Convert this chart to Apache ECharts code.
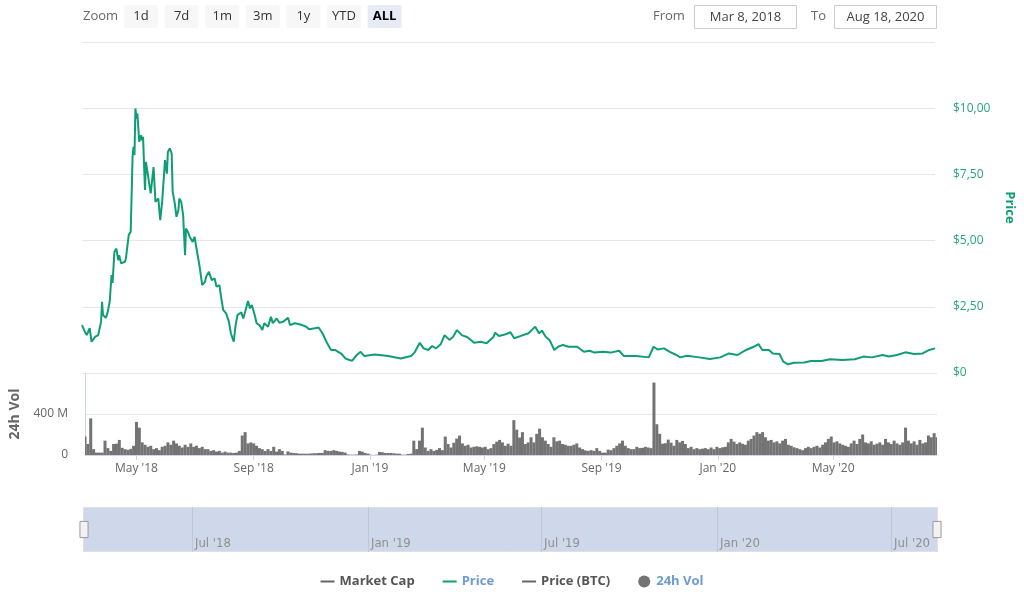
<!DOCTYPE html>
<html><head><meta charset="utf-8">
<script src="https://cdn.jsdelivr.net/npm/echarts@6/dist/echarts.min.js"></script>
<style>html,body{margin:0;padding:0;background:#fff}#chart{width:1024px;height:592px}</style>
</head><body><div id="chart"></div>
<script>
// ---------------- DATA ----------------
const priceDates = ['2018-03-08','2018-03-11','2018-03-13','2018-03-16','2018-03-18','2018-03-22','2018-03-25','2018-03-28','2018-03-29','2018-03-30',
'2018-04-02','2018-04-04','2018-04-06','2018-04-08','2018-04-09','2018-04-11','2018-04-13','2018-04-15','2018-04-16','2018-04-18',
'2018-04-22','2018-04-23','2018-04-26','2018-04-28','2018-04-29','2018-04-30','2018-05-01','2018-05-02','2018-05-03','2018-05-04',
'2018-05-05','2018-05-07','2018-05-09','2018-05-10','2018-05-11','2018-05-13','2018-05-14','2018-05-16','2018-05-19','2018-05-22',
'2018-05-24','2018-05-27','2018-05-29','2018-05-31','2018-06-03','2018-06-05','2018-06-06','2018-06-08','2018-06-10','2018-06-11',
'2018-06-13','2018-06-15','2018-06-17','2018-06-18','2018-06-20','2018-06-22','2018-06-24','2018-06-25','2018-06-27','2018-06-29',
'2018-07-01','2018-07-02','2018-07-04','2018-07-06','2018-07-08','2018-07-09','2018-07-12','2018-07-15','2018-07-16','2018-07-19',
'2018-07-22','2018-07-25','2018-07-27','2018-07-30','2018-08-01','2018-08-03','2018-08-06','2018-08-09','2018-08-11','2018-08-14',
'2018-08-16','2018-08-18','2018-08-22','2018-08-24','2018-08-26','2018-08-29','2018-08-31','2018-09-02','2018-09-05','2018-09-07',
'2018-09-10','2018-09-13','2018-09-15','2018-09-19','2018-09-22','2018-09-24','2018-09-28','2018-10-01','2018-10-05','2018-10-10',
'2018-10-12','2018-10-17','2018-10-22','2018-10-29','2018-11-01','2018-11-07','2018-11-11','2018-11-15','2018-11-20','2018-11-24',
'2018-11-28','2018-12-05','2018-12-09','2018-12-16','2018-12-21','2018-12-25','2018-12-29','2019-01-09','2019-01-23','2019-02-05',
'2019-02-16','2019-02-20','2019-02-25','2019-03-01','2019-03-06','2019-03-10','2019-03-14','2019-03-19','2019-03-23','2019-03-28',
'2019-04-01','2019-04-05','2019-04-10','2019-04-16','2019-04-23','2019-04-30','2019-05-06','2019-05-13','2019-05-15','2019-05-19',
'2019-05-26','2019-05-31','2019-06-04','2019-06-11','2019-06-19','2019-06-26','2019-06-30','2019-07-03','2019-07-07','2019-07-11',
'2019-07-16','2019-07-20','2019-07-25','2019-07-31','2019-08-09','2019-08-16','2019-08-22','2019-08-27','2019-09-05','2019-09-13',
'2019-09-22','2019-09-27','2019-10-10','2019-10-23','2019-10-28','2019-11-01','2019-11-08','2019-11-14','2019-11-21','2019-11-25',
'2019-12-02','2019-12-15','2019-12-26','2020-01-06','2020-01-15','2020-01-24','2020-02-02','2020-02-10','2020-02-15','2020-02-19',
'2020-02-26','2020-03-01','2020-03-08','2020-03-12','2020-03-17','2020-03-23','2020-04-03','2020-04-10','2020-04-21','2020-04-30',
'2020-05-13','2020-05-26','2020-06-04','2020-06-13','2020-06-24','2020-07-01','2020-07-09','2020-07-18','2020-07-27','2020-08-05',
'2020-08-12','2020-08-18'];
const priceValues = [1.81,1.56,1.43,1.69,1.18,1.37,1.43,1.94,2.69,2.19,
2.08,2.31,2.69,3.70,3.40,4.58,4.70,4.26,4.45,4.14,
4.20,4.33,5.21,5.33,6.72,8.16,8.54,8.23,9.99,9.61,
9.80,8.73,8.98,8.79,8.92,6.91,7.97,8.00,6.78,7.78,
6.46,6.59,5.77,6.46,8.04,7.53,8.35,8.48,8.29,6.85,
6.46,5.90,6.15,6.59,6.46,5.96,4.45,5.46,5.33,5.14,
5.21,4.95,5.14,4.70,4.64,4.08,3.32,3.45,3.63,3.82,
3.51,3.57,3.26,3.32,2.82,2.38,2.25,1.94,1.50,1.18,
1.81,2.19,2.29,2.06,2.31,2.72,2.44,2.57,2.19,1.88,
1.81,1.62,1.88,1.75,2.12,1.88,2.06,1.90,1.94,2.09,
1.81,1.88,1.84,1.75,1.65,1.69,1.72,1.50,1.12,0.87,
0.87,0.72,0.55,0.46,0.68,0.80,0.64,0.70,0.64,0.55,
0.64,0.80,1.14,0.93,0.87,1.02,0.93,1.09,1.43,1.25,
1.37,1.62,1.43,1.35,1.14,1.18,1.12,1.35,1.52,1.40,
1.46,1.54,1.31,1.40,1.50,1.75,1.50,1.60,1.37,1.25,
0.87,0.99,1.06,0.99,0.99,0.80,0.84,0.77,0.80,0.77,
0.84,0.64,0.64,0.59,0.99,0.89,0.93,0.80,0.68,0.59,
0.65,0.59,0.53,0.59,0.74,0.68,0.87,0.99,1.09,0.87,
0.87,0.74,0.72,0.43,0.33,0.39,0.40,0.45,0.45,0.52,
0.49,0.52,0.62,0.59,0.68,0.62,0.68,0.78,0.72,0.74,
0.87,0.93];
// 24h volume (millions of USD), one bar every 3 days starting at volumeStart
const volumeStart = '2018-03-08';
const volumeStepDays = 3;
const volumeValues = [180,107,357,57,23,23,23,140,67,40,
107,110,147,70,57,50,60,90,323,267,
123,100,80,90,57,67,47,80,90,123,
100,140,113,90,73,100,80,113,80,90,
67,80,57,57,40,47,33,40,23,33,
23,23,20,23,40,190,223,113,123,113,
90,67,57,40,57,40,80,33,57,40,
5,35,23,20,17,13,13,13,13,15,
17,17,20,20,47,40,40,47,40,33,
30,23,5,3,3,5,40,33,20,13,
3,0,3,30,27,20,20,20,17,13,
13,3,3,10,13,140,57,140,267,73,
40,57,40,50,67,47,180,107,73,120,
160,190,113,90,100,73,80,85,80,73,
80,57,67,107,130,147,123,90,110,90,
340,247,170,223,107,123,173,123,207,257,
173,140,107,80,173,133,140,107,100,90,
90,100,113,73,57,45,40,47,40,67,
40,23,23,53,47,67,90,113,140,90,
67,57,57,80,67,70,80,73,67,707,
300,207,110,115,150,120,90,147,123,137,
107,67,80,57,67,57,62,67,57,73,
57,80,67,75,80,123,157,130,107,123,
110,100,140,157,190,223,207,223,173,140,
147,123,133,113,140,157,100,90,75,67,
57,47,67,80,67,80,90,73,100,123,
157,180,123,133,113,100,90,80,113,140,
107,157,200,123,113,133,100,110,123,100,
157,123,107,140,113,100,123,267,140,113,
133,100,147,113,123,190,173,213,173];
const rangeStart = '2018-03-08';
const rangeEnd = '2020-08-18';
const xTickDates = ['2018-05-01','2018-09-01','2019-01-01','2019-05-01','2019-09-01','2020-01-01','2020-05-01'];
const xTickLabels = ["May '18","Sep '18","Jan '19","May '19","Sep '19","Jan '20","May '20"];
const navTickDates = ['2018-07-01','2019-01-01','2019-07-01','2020-01-01','2020-07-01'];
const navTickLabels = ["Jul '18","Jan '19","Jul '19","Jan '20","Jul '20"];
const priceTicks = [0, 2.5, 5, 7.5, 10];
const volumeTicks = [0, 400];
const zoomButtons = ['1d','7d','1m','3m','1y','YTD','ALL'];
const selectedZoom = 'ALL';
const fromText = 'Mar 8, 2018';
const toText = 'Aug 18, 2020';
const legendNames = ['Market Cap','Price','Price (BTC)','24h Vol'];

// ---------------- HELPERS ----------------
function ts(s){ const p = s.split('-').map(Number); return new Date(p[0], p[1]-1, p[2]).getTime(); }
const X_MIN = ts(rangeStart), X_MAX = ts(rangeEnd);
const priceData = priceDates.map((d,i)=>[ts(d), priceValues[i]]);
const vs = ts(volumeStart);
const volumeData = volumeValues.map((v,i)=>{ const d=new Date(vs); d.setDate(d.getDate()+i*volumeStepDays); return [d.getTime(), v*1e6]; });
const xTickTs = xTickDates.map(ts);
const navTickTs = navTickDates.map(ts);
const labelOf = (arrTs, labels) => v => { const i = arrTs.indexOf(v); return i>=0 ? labels[i] : ''; };

const FONT = "'Open Sans', 'DejaVu Sans', sans-serif";
const NARROW = "'Liberation Sans Narrow', 'DejaVu Sans Condensed', 'Roboto Condensed', sans-serif";
const GREEN = '#0f9d74';
const GREY = '#666666';
const VOL_COLOR = '#737373';

// ---------------- TOP BAR (range selector) ----------------
const graphic = [];
graphic.push({type:'text', style:{text:'Zoom', x:83, y:16.5, verticalAlign:'middle', fill:'#666', font:'13px '+FONT}});
zoomButtons.forEach((b,i)=>{
  const x = 124 + i*40.6, sel = b===selectedZoom;
  graphic.push({type:'rect', shape:{x:x, y:5, width:34, height:23, r:2}, style:{fill: sel?'#e6ebf5':'#f7f7f7'}});
  graphic.push({type:'text', style:{text:b, x:x+17, y:16.5, align:'center', verticalAlign:'middle', fill: sel?'#000':'#333', font:(sel?'bold ':'')+'13px '+FONT}});
});
graphic.push({type:'text', style:{text:'From', x:653, y:16.5, verticalAlign:'middle', fill:'#666', font:'13px '+FONT}});
graphic.push({type:'rect', shape:{x:694.5, y:5.5, width:102, height:23}, style:{fill:'#fff', stroke:'#cccccc', lineWidth:1}});
graphic.push({type:'text', style:{text:fromText, x:745.5, y:17, align:'center', verticalAlign:'middle', fill:'#444', font:'13px '+FONT}});
graphic.push({type:'text', style:{text:'To', x:811, y:16.5, verticalAlign:'middle', fill:'#666', font:'13px '+FONT}});
graphic.push({type:'rect', shape:{x:834.5, y:5.5, width:102, height:23}, style:{fill:'#fff', stroke:'#cccccc', lineWidth:1}});
graphic.push({type:'text', style:{text:toText, x:885.5, y:17, align:'center', verticalAlign:'middle', fill:'#444', font:'13px '+FONT}});

// ---------------- CHART ----------------
const chart = echarts.init(document.getElementById('chart'), null, {renderer:'canvas'});
const lineIcon = 'path://M0,0H14V2H0Z';
function renderVolumeBar(params, api){
  const top = api.coord([api.value(0), api.value(1)]);
  const base = api.coord([api.value(0), 0]);
  return {type:'rect', shape:{x: top[0]-1.5, y: top[1], width: 3, height: base[1]-top[1]},
          style:{fill: VOL_COLOR}};
}
const option = {
  animation:false,
  backgroundColor:'#fff',
  textStyle:{fontFamily:FONT},
  graphic: graphic,
  legend:{
    left:'center', top:570, itemGap:28, itemWidth:14, itemHeight:12,
    textStyle:{fontFamily:FONT, fontSize:13, fontWeight:'bold', color:'#555'},
    data:[
      {name:legendNames[0], icon:lineIcon, textStyle:{color:'#555'}},
      {name:legendNames[1], icon:lineIcon, textStyle:{color:'#6d9bd6'}},
      {name:legendNames[2], icon:lineIcon, textStyle:{color:'#555'}},
      {name:legendNames[3], icon:'circle', itemStyle:{color:VOL_COLOR}, textStyle:{color:'#6d9bd6'}}
    ],
    selectedMode:false
  },
  grid:[
    {left:82, right:87, top:42, height:331},
    {left:82, right:87, top:373, height:82},
    {left:82, right:87, top:507, height:45}
  ],
  xAxis:[
    {gridIndex:0, type:'value', min:X_MIN, max:X_MAX, axisLine:{show:false}, axisTick:{show:false}, axisLabel:{show:false}, splitLine:{show:false}},
    {gridIndex:1, type:'value', min:X_MIN, max:X_MAX,
      axisLine:{show:true, onZero:false, lineStyle:{color:'#ccd6eb'}},
      axisTick:{show:true, customValues:xTickTs, length:5, lineStyle:{color:'#ccd6eb'}},
      axisLabel:{customValues:xTickTs, formatter:labelOf(xTickTs,xTickLabels), color:GREY, fontSize:12, fontFamily:FONT, margin:8},
      splitLine:{show:false}},
    {gridIndex:2, type:'value', min:X_MIN, max:X_MAX, z:10,
      axisLine:{show:false}, axisTick:{show:false}, splitLine:{show:false},
      axisLabel:{customValues:navTickTs, formatter:labelOf(navTickTs,navTickLabels), inside:true, align:'left', verticalAlign:'bottom', margin:2, padding:[0,0,0,3], color:'#8f8f8f', fontSize:13, fontFamily:NARROW}}
  ],
  yAxis:[
    {gridIndex:0, type:'value', position:'right', min:0, max:12.5, interval:2.5,
      axisLine:{show:false}, axisTick:{show:false},
      axisLabel:{showMaxLabel:false, color:'#2aa57f', fontSize:12, fontFamily:FONT, margin:18,
        formatter:v=> priceTicks.indexOf(v)<0 ? '' : (v===0 ? '$0' : '$'+v.toFixed(2).replace('.',','))},
      splitLine:{lineStyle:{color:'#e6e6e6'}},
      name:'Price', nameLocation:'middle', nameRotate:-90, nameGap:68,
      nameTextStyle:{color:GREEN, fontWeight:'bold', fontSize:13, fontFamily:FONT}},
    {gridIndex:1, type:'value', position:'left', min:0, max:800e6, interval:400e6,
      axisLine:{show:true, onZero:false, lineStyle:{color:'#ccd6eb'}}, axisTick:{show:false},
      axisLabel:{showMaxLabel:false, color:GREY, fontSize:12, fontFamily:FONT, margin:17,
        formatter:v=>{ const m=v/1e6; if(volumeTicks.indexOf(m)<0) return ''; return m===0?'0':m+' M'; }},
      splitLine:{lineStyle:{color:'#e6e6e6'}},
      name:'24h Vol', nameLocation:'middle', nameRotate:90, nameGap:63,
      nameTextStyle:{color:GREY, fontWeight:'bold', fontSize:14, fontFamily:FONT}},
    {gridIndex:2, type:'value', min:0, max:1, show:false}
  ],
  dataZoom:[{
    type:'slider', xAxisIndex:[0,1], start:0, end:100, filterMode:'none',
    left:82, right:87, top:507, height:45,
    showDetail:false, showDataShadow:false, brushSelect:false, moveHandleSize:0,
    backgroundColor:'#fff', borderColor:'#e0e0e0', borderRadius:0,
    fillerColor:'#cfd8eb',
    handleIcon:'path://M-4,-8H4V8H-4Z', handleSize:'36%',
    handleStyle:{color:'#f2f2f2', borderColor:'#999', borderWidth:1},
    emphasis:{handleStyle:{color:'#f2f2f2', borderColor:'#999'}}
  }],
  series:[
    {name:legendNames[0], type:'line', xAxisIndex:0, yAxisIndex:0, data:[], symbol:'none', itemStyle:{color:'#666'}, lineStyle:{color:'#666'}},
    {name:legendNames[1], type:'line', xAxisIndex:0, yAxisIndex:0, data:priceData, symbol:'none', z:3,
      itemStyle:{color:GREEN}, lineStyle:{color:GREEN, width:2}},
    {name:legendNames[2], type:'line', xAxisIndex:0, yAxisIndex:0, data:[], symbol:'none', itemStyle:{color:'#666'}, lineStyle:{color:'#666'}},
    {name:legendNames[3], type:'custom', xAxisIndex:1, yAxisIndex:1, data:volumeData, clip:true,
      encode:{x:0, y:1}, renderItem:renderVolumeBar, itemStyle:{color:VOL_COLOR}},
    {name:'navigator', type:'line', xAxisIndex:2, yAxisIndex:2, data:[], z:10, silent:true,
      markLine:{silent:true, z:10, symbol:['none','none'], label:{show:false},
        lineStyle:{color:'#bcc7de', type:'solid', width:1},
        data:navTickTs.map(t=>({xAxis:t}))}}
  ]
};
chart.setOption(option);
</script></body></html>
